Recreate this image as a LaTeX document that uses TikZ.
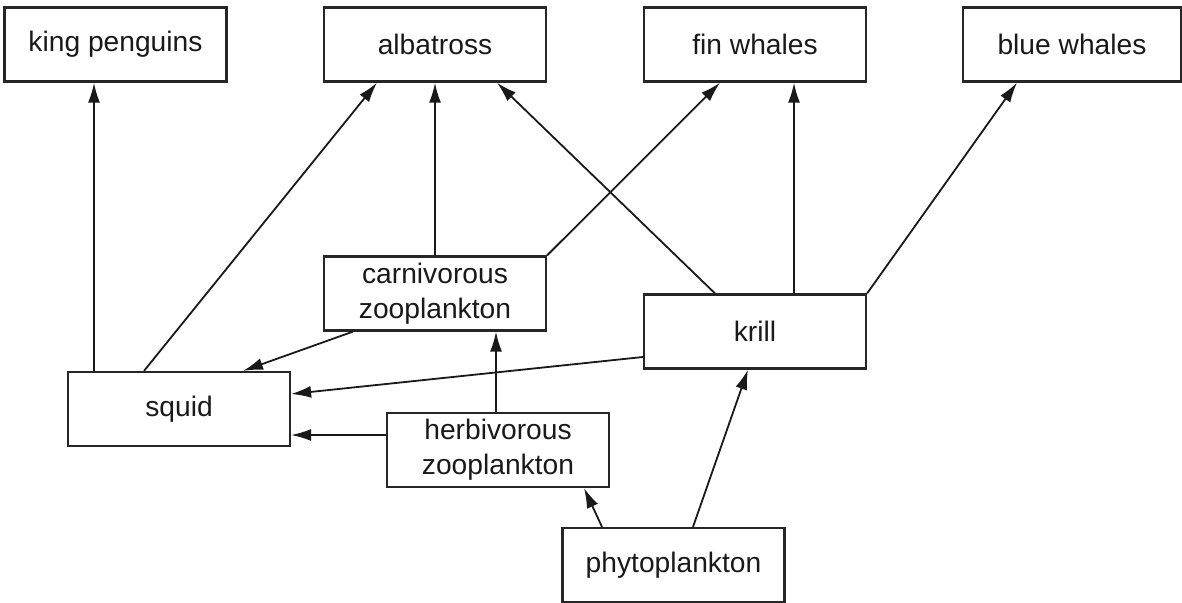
\documentclass[tikz,border=0pt]{standalone}
\usepackage{fontspec}
\setmainfont{Liberation Sans}
\usepackage{tikz}
\usetikzlibrary{arrows.meta}
\def\boxw{111pt}
\def\boxh{37pt}

\begin{document}
\begin{tikzpicture}[x=0.5pt, y=-0.5pt,
	animal/.style={draw=black!85, line width=1.1pt, minimum width=\boxw, minimum height=\boxh, align=center, inner sep=0pt, text=black!90, font=\fontsize{14.1}{17.3}\selectfont},
	eats/.style={-{Latex[length=10pt,width=6pt]}, draw=black!90, fill=black!90, line width=0.9pt}]
	\useasboundingbox (0,0) rectangle (1182,603);
	% top row
	\node[animal] (king) at (115.5,44.6){king penguins};
	\node[animal] (albatross) at (435,44.6){albatross};
	\node[animal] (fin) at (755,44.6){fin whales};
	\node[animal, minimum width=109pt] (blue) at (1072,44.6){blue whales};
	% lower levels
	\node[animal] (carni) at (435,293.5){carnivorous\\zooplankton};
	\node[animal] (krill) at (755,331.5){krill};
	\node[animal] (squid) at (179,409){squid};
	\node[animal] (herbi) at (498,450){herbivorous\\zooplankton};
	\node[animal] (phyto) at (673.5,565){phytoplankton};
	% who eats whom
	\draw[eats] ([xshift=-42.5pt]squid.north) -- ([xshift=-42.5pt]squid.north |- king.south);
	\draw[eats] ([xshift=-17.5pt]squid.north) -- ([xshift=-29pt]albatross.south);
	\draw[eats] (carni.north) -- (albatross.south);
	\draw[eats] ([xshift=-20pt]krill.north) -- ([xshift=31pt]albatross.south);
	\draw[eats] (carni.north east) -- ([xshift=-17.5pt]fin.south);
	\draw[eats] ([xshift=19.5pt]krill.north) -- ([xshift=19.5pt]krill.north |- fin.south);
	\draw[eats] (krill.north east) -- ([xshift=-27.5pt]blue.south);
	\draw[eats] ([xshift=-41pt]carni.south) -- ([xshift=32pt]squid.north);
	\draw[eats] ([yshift=-12.75pt]krill.west) -- ([yshift=7.5pt]squid.east);
	\draw[eats] ([yshift=7.5pt]herbi.west) -- ([yshift=7.5pt]herbi.west -| squid.east);
	\draw[eats] ([xshift=-1pt]herbi.north) -- ([xshift=-1pt]herbi.north |- carni.south);
	\draw[eats] ([xshift=-35.75pt]phyto.north) -- ([xshift=43pt]herbi.south);
	\draw[eats] ([xshift=9.75pt]phyto.north) -- ([xshift=-3.5pt]krill.south);
\end{tikzpicture}
\end{document}
